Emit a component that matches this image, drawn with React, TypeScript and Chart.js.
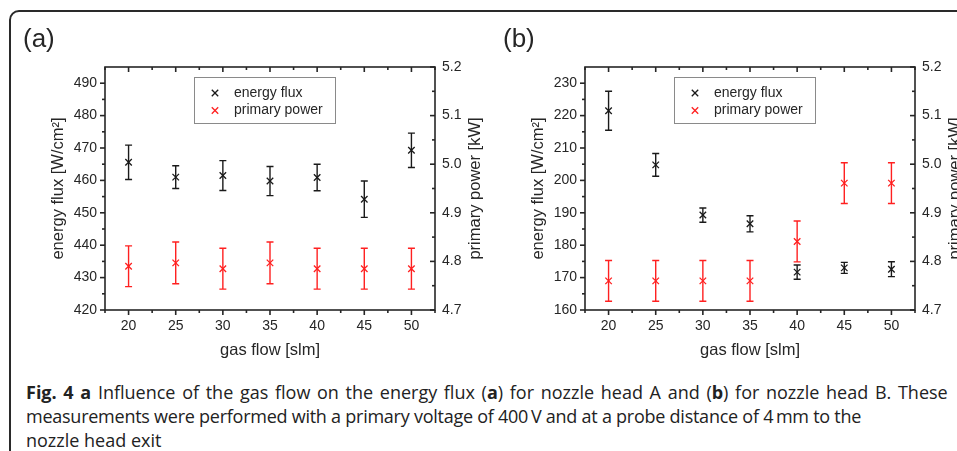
import React, { useEffect, useRef } from "react";
import { Chart, registerables } from "chart.js";

Chart.register(...registerables);

// ---------- data ----------
const gasFlow = [20, 25, 30, 35, 40, 45, 50];

const fluxA = [465.6, 461.0, 461.5, 459.8, 460.9, 454.2, 469.3];
const fluxErrA = [5.3, 3.5, 4.6, 4.5, 4.1, 5.6, 5.3];
const powerA = [4.79, 4.797, 4.785, 4.797, 4.785, 4.785, 4.785];
const powerErrA = [0.042, 0.043, 0.042, 0.043, 0.042, 0.042, 0.042];

const fluxB = [221.5, 204.8, 189.3, 186.6, 171.7, 173.0, 172.6];
const fluxErrB = [6.0, 3.5, 2.2, 2.5, 2.2, 1.7, 2.3];
const powerB = [4.76, 4.76, 4.76, 4.76, 4.841, 4.961, 4.961];
const powerErrB = [0.042, 0.042, 0.042, 0.042, 0.042, 0.042, 0.042];

const xTicks = [20, 25, 30, 35, 40, 45, 50];
const xMinorTicks = [17.5, 22.5, 27.5, 32.5, 37.5, 42.5, 47.5, 52.5];
const yTicksA = [420, 430, 440, 450, 460, 470, 480, 490];
const yMinorTicksA = [425, 435, 445, 455, 465, 475, 485];
const yTicksB = [160, 170, 180, 190, 200, 210, 220, 230];
const yMinorTicksB = [165, 175, 185, 195, 205, 215, 225];
const powerTicks = [4.7, 4.8, 4.9, 5.0, 5.1, 5.2];
const powerMinorTicks = [4.75, 4.85, 4.95, 5.05, 5.15];

const seriesLabels = ["energy flux", "primary power"];
const xTitle = "gas flow [slm]";
const yTitle = "energy flux [W/cm²]";
const y2Title = "primary power [kW]";

// ---------- styles ----------
const FONT = '"Liberation Sans", Arial, sans-serif';
const INK = "#262626";
const BLACK = "#1a1a1a";
const RED = "#ff2020";

const errorBarPlugin = {
  id: "errorBars",
  beforeDatasetsDraw(chart: any) {
    const ctx = chart.ctx;
    const xs = chart.scales.x;
    chart.data.datasets.forEach((ds: any) => {
      const ys = chart.scales[ds.yAxisID];
      ctx.save();
      ctx.strokeStyle = ds.borderColor;
      ctx.lineWidth = 1.4;
      ds.data.forEach((pt: any, j: number) => {
        const x = xs.getPixelForValue(pt.x);
        const y1 = ys.getPixelForValue(pt.y + ds.errors[j]);
        const y2 = ys.getPixelForValue(pt.y - ds.errors[j]);
        ctx.beginPath();
        ctx.moveTo(x, y1);
        ctx.lineTo(x, y2);
        ctx.moveTo(x - 3.5, y1);
        ctx.lineTo(x + 3.5, y1);
        ctx.moveTo(x - 3.5, y2);
        ctx.lineTo(x + 3.5, y2);
        ctx.stroke();
      });
      ctx.restore();
    });
  },
};

function makeDecorPlugin(panelLabel: string, yTicks: number[], yMinor: number[]) {
  return {
    id: "decor",
    afterDraw(chart: any) {
      const ctx = chart.ctx;
      const { left, right, top, bottom } = chart.chartArea;
      const xs = chart.scales.x;
      const ys = chart.scales.y;
      const ys2 = chart.scales.y2;
      ctx.save();
      ctx.strokeStyle = INK;
      ctx.lineWidth = 1.6;
      const line = (x1: number, y1: number, x2: number, y2: number) => {
        ctx.beginPath();
        ctx.moveTo(x1, y1);
        ctx.lineTo(x2, y2);
        ctx.stroke();
      };
      ctx.strokeRect(left, top, right - left, bottom - top);
      const MAJ = 5;
      const MIN = 3;
      xTicks.forEach((v) => {
        const p = xs.getPixelForValue(v);
        line(p, bottom, p, bottom + MAJ);
        line(p, top, p, top + MAJ);
      });
      xMinorTicks.forEach((v) => {
        const p = xs.getPixelForValue(v);
        line(p, bottom, p, bottom + MIN);
        line(p, top, p, top + MIN);
      });
      yTicks.forEach((v) => {
        const p = ys.getPixelForValue(v);
        line(left, p, left - MAJ, p);
      });
      yMinor.forEach((v) => {
        const p = ys.getPixelForValue(v);
        line(left, p, left - MIN, p);
      });
      powerTicks.forEach((v) => {
        const p = ys2.getPixelForValue(v);
        line(right, p, right - MAJ, p);
      });
      powerMinorTicks.forEach((v) => {
        const p = ys2.getPixelForValue(v);
        line(right, p, right - MIN, p);
      });

      // axis titles
      ctx.fillStyle = INK;
      ctx.font = `16.5px ${FONT}`;
      ctx.textAlign = "center";
      ctx.textBaseline = "middle";
      const cx = (left + right) / 2;
      const cy = (top + bottom) / 2;
      ctx.fillText(xTitle, cx, bottom + 40);
      ctx.save();
      ctx.translate(left - 47, cy);
      ctx.rotate(-Math.PI / 2);
      ctx.fillText(yTitle, 0, 0);
      ctx.restore();
      ctx.save();
      ctx.translate(right + 40, cy);
      ctx.rotate(-Math.PI / 2);
      ctx.fillText(y2Title, 0, 0);
      ctx.restore();

      // panel label
      ctx.font = `26px ${FONT}`;
      ctx.textAlign = "left";
      ctx.textBaseline = "alphabetic";
      ctx.fillText(panelLabel, 23, 47);

      // legend
      const bx = left + 89;
      const by = top + 10;
      const bw = 141;
      const bh = 46;
      ctx.strokeStyle = "#8a8a8a";
      ctx.lineWidth = 1;
      ctx.strokeRect(Math.round(bx) + 0.5, Math.round(by) + 0.5, bw, bh);
      ctx.font = `14px ${FONT}`;
      ctx.textBaseline = "middle";
      chart.data.datasets.forEach((ds: any, i: number) => {
        const ry = by + 16 + i * 17.5;
        const mx = bx + 21;
        ctx.strokeStyle = ds.borderColor;
        ctx.lineWidth = 1.3;
        const r = 3.2;
        line(mx - r, ry - r, mx + r, ry + r);
        line(mx - r, ry + r, mx + r, ry - r);
        ctx.fillStyle = INK;
        ctx.fillText(ds.label, bx + 40, ry);
      });
      ctx.restore();
    },
  };
}

interface PanelProps {
  left: number;
  width: number;
  label: string;
  flux: number[];
  fluxErr: number[];
  power: number[];
  powerErr: number[];
  yMin: number;
  yMax: number;
  yTicks: number[];
  yMinor: number[];
}

function Panel(p: PanelProps) {
  const ref = useRef<HTMLCanvasElement>(null);
  useEffect(() => {
    const tickFont = { family: FONT, size: 14 };
    const chart = new Chart(ref.current as HTMLCanvasElement, {
      type: "scatter",
      data: {
        datasets: [
          {
            label: seriesLabels[0],
            data: gasFlow.map((x, i) => ({ x, y: p.flux[i] })),
            yAxisID: "y",
            borderColor: BLACK,
            backgroundColor: BLACK,
            pointStyle: "crossRot",
            pointRadius: 4.6,
            pointBorderWidth: 1.3,
            errors: p.fluxErr,
          } as any,
          {
            label: seriesLabels[1],
            data: gasFlow.map((x, i) => ({ x, y: p.power[i] })),
            yAxisID: "y2",
            borderColor: RED,
            backgroundColor: RED,
            pointStyle: "crossRot",
            pointRadius: 4.6,
            pointBorderWidth: 1.3,
            errors: p.powerErr,
          } as any,
        ],
      },
      options: {
        animation: false,
        responsive: false,
        devicePixelRatio: 1,
        layout: { padding: { top: 67, left: 0, right: 0, bottom: 0 } },
        plugins: { legend: { display: false }, tooltip: { enabled: false } },
        scales: {
          x: {
            type: "linear",
            position: "bottom",
            min: 17.5,
            max: 52.5,
            afterBuildTicks: (s: any) => {
              s.ticks = xTicks.map((v) => ({ value: v }));
            },
            afterFit: (s: any) => {
              s.height = 50;
            },
            grid: { display: false, drawTicks: false },
            border: { display: false },
            ticks: { font: tickFont, color: INK, padding: 8, maxRotation: 0, autoSkip: false },
          },
          y: {
            type: "linear",
            position: "left",
            min: p.yMin,
            max: p.yMax,
            afterBuildTicks: (s: any) => {
              s.ticks = p.yTicks.map((v) => ({ value: v }));
            },
            afterFit: (s: any) => {
              s.width = 105;
            },
            grid: { display: false, drawTicks: false },
            border: { display: false },
            ticks: { font: tickFont, color: INK, padding: 8, autoSkip: false },
          },
          y2: {
            type: "linear",
            position: "right",
            min: 4.7,
            max: 5.2,
            afterBuildTicks: (s: any) => {
              s.ticks = powerTicks.map((v) => ({ value: v }));
            },
            afterFit: (s: any) => {
              s.width = p.width - 435;
            },
            grid: { display: false, drawTicks: false },
            border: { display: false },
            ticks: {
              font: tickFont,
              color: INK,
              padding: 7,
              autoSkip: false,
              callback: (v: any) => Number(v).toFixed(1),
            },
          },
        },
      } as any,
      plugins: [errorBarPlugin, makeDecorPlugin(p.label, p.yTicks, p.yMinor)],
    });
    return () => chart.destroy();
  }, []);
  return (
    <canvas
      ref={ref}
      width={p.width}
      height={360}
      style={{ position: "absolute", left: p.left, top: 0, width: p.width, height: 360 }}
    />
  );
}

export default function App() {
  return (
    <div
      style={{
        position: "fixed",
        left: 0,
        top: 0,
        width: 957,
        height: 451,
        overflow: "hidden",
        background: "#fff",
      }}
    >
      <div
        style={{
          position: "absolute",
          left: 9,
          top: 10,
          width: 1200,
          height: 1000,
          border: "2px solid #2a2a2a",
          borderTopLeftRadius: 10,
          boxSizing: "border-box",
        }}
      />
      <Panel
        left={0}
        width={500}
        label="(a)"
        flux={fluxA}
        fluxErr={fluxErrA}
        power={powerA}
        powerErr={powerErrA}
        yMin={420}
        yMax={495}
        yTicks={yTicksA}
        yMinor={yMinorTicksA}
      />
      <Panel
        left={480}
        width={520}
        label="(b)"
        flux={fluxB}
        fluxErr={fluxErrB}
        power={powerB}
        powerErr={powerErrB}
        yMin={160}
        yMax={235}
        yTicks={yTicksB}
        yMinor={yMinorTicksB}
      />
      <div
        style={{
          position: "absolute",
          left: 26,
          top: 380,
          fontFamily: '"Open Sans", sans-serif',
          fontSize: 18,
          lineHeight: "24px",
          color: "#222",
          whiteSpace: "nowrap",
        }}
      >
        <div style={{ wordSpacing: "2px" }}>
          <b>Fig. 4 a</b> Influence of the gas flow on the energy flux (<b>a</b>) for nozzle head A and (<b>b</b>) for
          nozzle head B. These
        </div>
        <div style={{ letterSpacing: "-0.25px" }}>
          measurements were performed with a primary voltage of 400{"\u2009"}V and at a probe distance of 4{"\u2009"}mm to
          the
        </div>
        <div>nozzle head exit</div>
      </div>
    </div>
  );
}
